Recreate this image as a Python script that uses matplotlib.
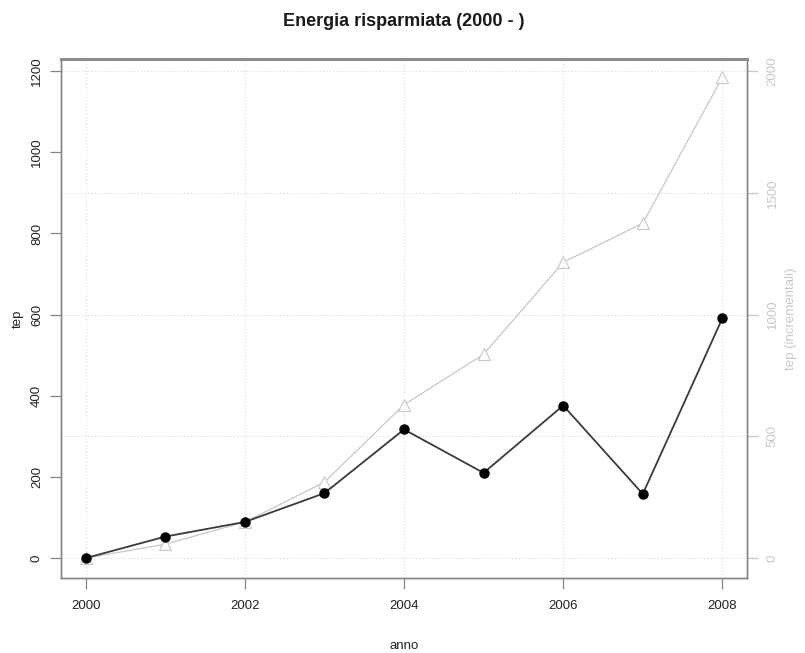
import matplotlib.pyplot as plt

plt.rcParams['font.family'] = ['Liberation Sans', 'DejaVu Sans']

anni = [2000, 2001, 2002, 2003, 2004, 2005, 2006, 2007, 2008]
tep = [0, 53, 89, 160, 317, 210, 376, 158, 591]
tep_incr = [0, 57, 148, 312, 630, 837, 1215, 1375, 1975]

x_ticks = [2000, 2002, 2004, 2006, 2008]
y_ticks = [0, 200, 400, 600, 800, 1000, 1200]
y2_ticks = [0, 500, 1000, 1500, 2000]

grigio = '#858585'
chiaro = '#c8c8c8'

fig = plt.figure(figsize=(8.05, 6.53), dpi=100)
ax = fig.add_axes([0.0758, 0.1149, 0.8522, 0.7948])
ax2 = ax.twinx()

ax.set_xlim(1999.69, 2008.31)
ax.set_ylim(-49, 1230)
ax2.set_ylim(-49 * 5 / 3, 1230 * 5 / 3)

# griglia (asse destro + anni)
for v in y2_ticks:
    ax2.axhline(v, color='#e0e0e0', lw=0.9, ls=':', zorder=0)
for v in x_ticks:
    ax.axvline(v, color='#e0e0e0', lw=0.9, ls=':', zorder=0)

ax2.plot(anni, tep_incr, color=chiaro, lw=0.9, marker='^', ms=8.5,
         mfc='white', mec=chiaro, mew=0.8, zorder=2)
ax.plot(anni, tep, color='#3a3a3a', lw=1.3, marker='o', ms=6.5,
        mfc='black', mec='black', zorder=3)
ax.set_zorder(ax2.get_zorder() + 1)
ax.patch.set_visible(False)

ax.set_xticks(x_ticks)
ax.set_yticks(y_ticks)
ax2.set_yticks(y2_ticks)
ax.set_yticklabels([str(v) for v in y_ticks], rotation=90, va='center')
ax2.set_yticklabels([str(v) for v in y2_ticks], rotation=90, va='center')

ax.tick_params(axis='both', direction='out', length=8, width=0.9,
               color=grigio, labelcolor='#222222', labelsize=9.5, pad=5)
ax.tick_params(axis='x', pad=8)
ax2.tick_params(axis='y', direction='out', length=8, width=0.9,
                color=chiaro, labelcolor=chiaro, labelsize=9.5, pad=6)

for a in (ax, ax2):
    for s in a.spines.values():
        s.set_color(grigio)
        s.set_linewidth(1.0)
    a.spines['top'].set_linewidth(2.0)
    a.spines['top'].set_color('#8c8c8c')

ax.set_xlabel('anno', fontsize=9.5, labelpad=20, color='#222222')
ax.set_ylabel('tep', fontsize=9.5, labelpad=5, color='#222222')
ax2.set_ylabel('tep (incrementali)', fontsize=9.5, color=chiaro, labelpad=5)
ax.set_title('Energia risparmiata (2000 - )', fontsize=13,
             fontweight='bold', pad=24, color='#1a1a1a')

fig.savefig('out.png', dpi=100)
